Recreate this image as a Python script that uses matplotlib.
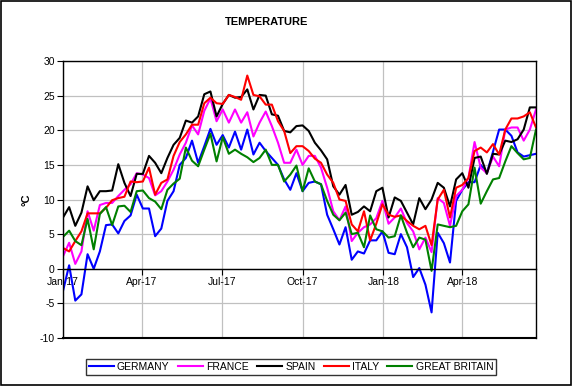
import numpy as np
import pandas as pd
import matplotlib
matplotlib.use("Agg")
import matplotlib.pyplot as plt
import matplotlib.dates as mdates
from matplotlib.patches import Rectangle

plt.rcParams['font.family'] = ['Liberation Sans', 'DejaVu Sans']
plt.rcParams['axes.unicode_minus'] = False

# weekly temperatures, starting on 1 Jan 2017
semanas = pd.date_range('2017-01-01', periods=78, freq='7D')

germany = [-3.2, 0.5, -4.6, -3.7, 2.1, 0.0, 2.5, 6.3, 6.4, 5.1, 6.9, 7.7, 10.7,
           8.7, 8.7, 4.7, 5.8, 9.8, 11.2, 15.0, 16.0, 18.5, 15.3, 17.7, 20.2, 17.9,
           19.3, 17.5, 19.8, 17.2, 20.1, 16.5, 18.2, 17.0, 16.0, 15.0, 12.9, 11.4, 13.8,
           11.2, 12.4, 12.6, 12.2, 7.8, 5.7, 3.5, 6.0, 1.3, 2.5, 2.2, 4.1, 4.1,
           5.4, 2.3, 2.1, 5.0, 3.1, -1.2, 0.1, -2.3, -6.3, 5.2, 3.7, 0.9, 9.8,
           11.4, 12.5, 12.5, 15.0, 13.8, 16.9, 20.1, 20.1, 19.2, 16.8, 16.2, 16.4, 16.6]

france = [1.8, 3.75, 0.7, 2.5, 8.3, 5.5, 9.2, 9.5, 9.5, 10.5, 11.4, 12.2, 13.8,
          13.6, 13.1, 10.6, 11.2, 12.6, 14.3, 16.5, 18.2, 20.7, 19.4, 22.8, 24.6, 21.3,
          23.0, 21.1, 23.0, 21.1, 22.6, 19.1, 21.1, 22.7, 20.6, 18.2, 15.3, 15.3, 17.2,
          15.0, 16.3, 16.3, 14.6, 11.7, 8.3, 7.0, 9.0, 4.0, 5.2, 6.0, 6.4, 7.3,
          9.8, 6.5, 7.4, 8.7, 6.6, 5.4, 2.8, 4.5, 2.4, 10.2, 9.5, 6.2, 10.5,
          11.4, 13.1, 18.3, 14.6, 13.8, 16.2, 14.8, 20.1, 20.4, 20.4, 18.5, 20.1, 23.0]

spain = [7.4, 8.9, 6.2, 8.1, 11.9, 9.9, 11.2, 11.2, 11.3, 15.1, 12.4, 10.5, 13.7,
         13.7, 16.3, 15.3, 13.8, 16.0, 17.9, 18.9, 21.4, 21.1, 22.0, 25.2, 25.6, 22.0,
         23.8, 25.1, 24.7, 24.8, 25.9, 23.0, 25.1, 25.0, 22.3, 22.1, 19.9, 19.7, 20.6,
         20.7, 19.9, 18.2, 17.1, 15.8, 11.9, 10.7, 12.1, 7.8, 8.2, 9.0, 8.3, 11.2,
         11.7, 7.4, 10.3, 9.8, 8.1, 6.4, 10.2, 8.6, 10.0, 12.4, 11.7, 9.0, 12.9,
         13.8, 11.7, 16.0, 16.2, 13.7, 16.6, 16.5, 18.5, 18.3, 18.7, 20.1, 23.3, 23.3]

italy = [3.0, 2.5, 4.0, 5.4, 8.0, 8.0, 8.0, 8.8, 9.9, 10.2, 10.4, 12.6, 12.5,
         12.6, 14.6, 10.7, 12.4, 12.9, 16.3, 18.3, 19.4, 20.8, 20.8, 23.9, 24.7, 23.9,
         23.8, 25.1, 24.8, 24.4, 27.9, 25.1, 24.9, 23.7, 23.7, 21.3, 19.9, 16.7, 17.7,
         17.7, 17.0, 15.9, 15.3, 13.6, 12.4, 10.0, 9.8, 6.4, 5.4, 8.3, 4.1, 6.5,
         9.3, 7.8, 7.5, 7.7, 6.9, 6.2, 5.7, 6.2, 3.4, 10.0, 11.4, 7.4, 11.7,
         12.1, 13.1, 17.0, 17.5, 16.8, 18.0, 16.5, 20.1, 21.7, 21.7, 22.0, 22.6, 20.4]

great_britain = [4.6, 5.5, 4.0, 3.4, 7.2, 2.8, 7.9, 8.9, 6.3, 9.0, 9.1, 8.2, 11.2,
                 11.3, 10.2, 9.7, 8.6, 11.4, 12.3, 13.0, 17.5, 15.6, 14.8, 17.2, 19.5, 15.5,
                 19.0, 16.6, 17.2, 16.6, 16.1, 15.4, 16.0, 17.2, 15.0, 15.0, 12.6, 13.6, 14.9,
                 11.2, 14.5, 12.6, 12.2, 9.8, 7.8, 7.0, 8.1, 5.0, 5.2, 3.1, 7.7, 5.7,
                 5.4, 4.5, 4.7, 7.7, 5.2, 3.1, 4.5, 4.2, -0.3, 6.4, 6.2, 6.0, 6.2,
                 8.3, 9.3, 14.6, 9.4, 11.2, 12.9, 13.1, 15.5, 17.7, 16.7, 15.8, 16.0, 20.1]

series = [("GERMANY", germany, "#0000ff"),
          ("FRANCE", france, "#ff00ff"),
          ("SPAIN", spain, "#000000"),
          ("ITALY", italy, "#ff0000"),
          ("GREAT BRITAIN", great_britain, "#008000")]

fig = plt.figure(figsize=(5.72, 3.86), dpi=100)
ax = fig.add_axes([63/572, 1-338/386, (536-63)/572, (338-61)/386])

for nombre, valores, color in series:
    ax.plot(semanas, valores, color=color, lw=1.5, label=nombre)

ax.set_ylim(-10, 30)
ax.set_yticks(np.arange(-10, 31, 5))
ax.set_xlim(semanas[0], semanas[-1])
ax.xaxis.set_major_locator(mdates.MonthLocator(bymonth=[1, 4, 7, 10]))
ax.xaxis.set_major_formatter(mdates.DateFormatter('%b-%y'))
ax.grid(True, color='#c0c0c0', lw=0.9)
ax.set_axisbelow(True)

# x axis crosses at zero, frame still drawn around the plot
ax.spines['bottom'].set_position(('data', 0))
ax.axhline(-10, color='black', lw=1.5, clip_on=False)
for s in ['left', 'right', 'top', 'bottom']:
    ax.spines[s].set_linewidth(1.0)
ax.tick_params(axis='both', labelsize=7.5, length=4, width=0.8, direction='out', pad=2)

ax.set_title('TEMPERATURE', fontsize=8, fontweight='bold', x=0.43, y=1.0, pad=26)
fig.text(26/572, 1-200/386, '°C', fontsize=8, fontweight='bold', rotation=90,
         ha='center', va='center')

leg = fig.legend(loc='center', bbox_to_anchor=(291/572, 1-367/386), ncol=5,
                 fontsize=7.5, frameon=True, fancybox=False, edgecolor='black',
                 handlelength=2.4, handletextpad=0.3, columnspacing=0.8,
                 borderpad=0.3)
leg.get_frame().set_linewidth(1.0)

fig.patches.append(Rectangle((1/572, 1/386), 570/572, 384/386, transform=fig.transFigure,
                             fill=False, edgecolor='black', lw=1.2))

fig.savefig('out.png', dpi=100)
